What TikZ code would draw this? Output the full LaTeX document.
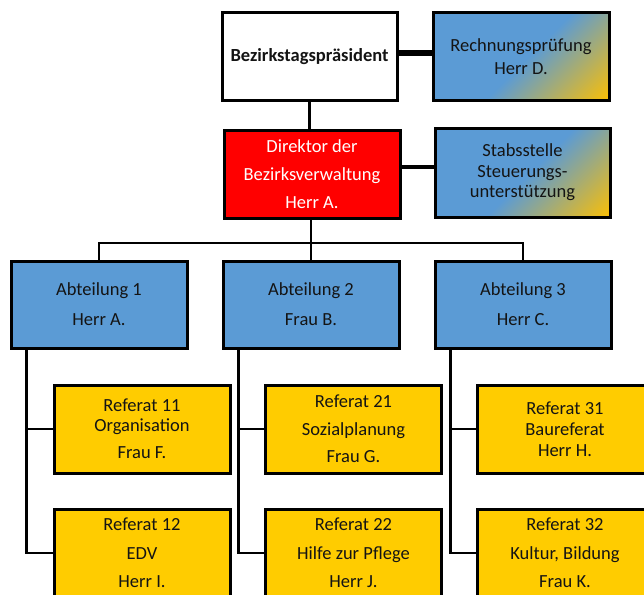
\documentclass[tikz,border=0pt]{standalone}
\usepackage{fontspec}
\setmainfont{Carlito}
\definecolor{offblue}{HTML}{5B9BD5}
\definecolor{offgold}{HTML}{FFC000}
\definecolor{refyellow}{HTML}{FFCC00}
\definecolor{txt}{HTML}{141414}
\pgfdeclarehorizontalshading{bluegold}{100bp}{color(0bp)=(offblue); color(52bp)=(offblue); color(86bp)=(offgold); color(100bp)=(offgold)}
\tikzset{
  box/.style={draw=black, line width=3pt, minimum width=176pt, minimum height=88pt,
    inner sep=0pt, align=center, text=txt},
  fs/.style={font=\fontsize{18.5}{#1}\selectfont},
  gradbox/.style={box, shading=bluegold, shading angle=-45},
  abtbox/.style={box, fill=offblue, fs=30},
  refbox/.style={box, fill=refyellow},
  conn/.style={line width=2pt, line cap=rect},
  thickconn/.style={line width=#1, line cap=butt}
}
\begin{document}
\begin{tikzpicture}[x=1pt, y=-1pt]
\useasboundingbox (0,0) rectangle (644,594);
% top level
\node[box, fill=white, minimum width=175pt, minimum height=87pt, fs=20] (bez) at (309.5,56.5) {\textbf{Bezirkstagspräsident}};
\node[gradbox, minimum height=87pt, fs=23] (rech) at (521,56.5) {Rechnungsprüfung\\Herr D.};
\node[box, fill=red, text=white, fs=28] (dir) at (312,174) {Direktor der\\Bezirksverwaltung\\Herr A.};
\node[gradbox, minimum width=175pt, minimum height=89pt, fs=20.5] (stab) at (522.5,172.5) {Stabsstelle\\Steuerungs-\\unterstützung};
% Abteilungen
\node[abtbox, minimum height=87pt] (ab1) at (99,304.5) {Abteilung 1\\Herr A.};
\node[abtbox, minimum height=87pt] (ab2) at (311,304.5) {Abteilung 2\\Frau B.};
\node[abtbox, minimum height=87pt] (ab3) at (523,304.5) {Abteilung 3\\Herr C.};
% Referate
\node[refbox, fs=20] (r11) at (142,429) {Referat 11\\Organisation\\[7pt]Frau F.};
\node[refbox, fs=27.5] (r21) at (353.5,429) {Referat 21\\Sozialplanung\\Frau G.};
\node[refbox, fs=21] (r31) at (565,429) {Referat 31\\Baureferat\\Herr H.};
\node[refbox, fs=28.5] (r12) at (142,553) {Referat 12\\EDV\\Herr I.};
\node[refbox, fs=28.5] (r22) at (353.5,553) {Referat 22\\Hilfe zur Pflege\\Herr J.};
\node[refbox, fs=28.5] (r32) at (565,553) {Referat 32\\Kultur, Bildung\\Frau K.};
% connectors
\coordinate (br) at ([yshift=3.5pt]bez.east);
\coordinate (ds) at ([yshift=7pt]dir.east);
\draw[thickconn=5pt] (br) -- (br -| rech.west);
\draw[thickconn=4.5pt] (ds) -- (ds -| stab.west);
\draw[thickconn=3pt] (bez.south) -- (bez.south |- dir.north);
\coordinate (bus) at (311,243);
\draw[conn] (dir.south -| bus) -- (ab2.north);
\draw[conn] (ab1.north) |- (bus) -| (ab3.north);
\foreach \a/\u/\l in {ab1/r11/r12, ab2/r21/r22, ab3/r31/r32}{
  \draw[conn, line width=2.5pt] ([xshift=17pt]\a.south west) |- (\l.west);
  \draw[conn, line width=2.5pt] ([xshift=17pt]\a.south west) |- (\u.west);
}
\end{tikzpicture}
\end{document}
